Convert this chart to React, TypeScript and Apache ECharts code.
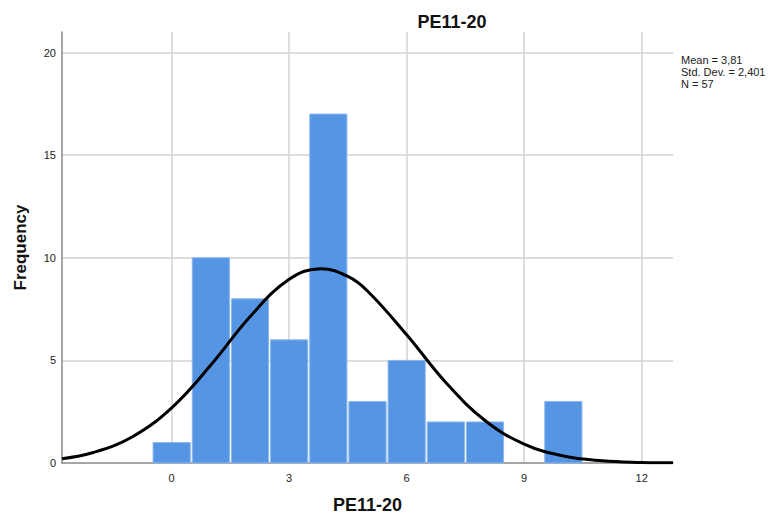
import React, { useEffect, useRef } from "react";
import * as echarts from "echarts";

const binCenters = [0, 1, 2, 3, 4, 5, 6, 7, 8, 9, 10];
const binCounts = [1, 10, 8, 6, 17, 3, 5, 2, 2, 0, 3];
const curveX = [-2.8, -2, -1, 0, 1, 2, 3, 3.81, 4.5, 5, 6, 7, 8, 9, 10, 11, 12, 12.8];
const curveY = [0.21, 0.51, 1.28, 2.69, 4.77, 7.13, 8.95, 9.47, 9.09, 8.38, 6.25, 3.92, 2.07, 0.92, 0.34, 0.11, 0.03, 0.01];
const xTicks = [0, 3, 6, 9, 12];
const yGrid = [5, 10, 15, 20];
const statsLines = ["Mean = 3,81", "Std. Dev. = 2,401", "N = 57"];

export default function App() {
  const ref = useRef<HTMLDivElement>(null);
  useEffect(() => {
    document.body.style.margin = "0";
    const chart = echarts.init(ref.current!, undefined, { renderer: "svg" });
    const font = "Arial, 'Liberation Sans', sans-serif";
    chart.setOption({
      animation: false,
      backgroundColor: "#ffffff",
      grid: { left: 62, right: 97, top: 32, bottom: 52, outerBoundsMode: "none", containLabel: false },
      xAxis: {
        type: "value",
        min: -2.8,
        max: 12.8,
        name: "PE11-20",
        nameLocation: "middle",
        nameGap: 33,
        nameTextStyle: { fontFamily: font, fontSize: 18, fontWeight: "bold", color: "#111" },
        axisLine: { show: true, onZero: false, lineStyle: { color: "#888", width: 1.5 } },
        axisTick: { show: false },
        splitLine: { show: false },
        axisLabel: {
          customValues: xTicks,
          fontFamily: font,
          fontSize: 11,
          color: "#222",
          margin: 9,
        },
      },
      yAxis: {
        type: "value",
        min: 0,
        max: 21,
        interval: 5,
        name: "Frequency",
        nameLocation: "middle",
        nameGap: 33,
        nameTextStyle: { fontFamily: font, fontSize: 17, fontWeight: "bold", color: "#111" },
        axisLine: { show: true, onZero: false, lineStyle: { color: "#888", width: 1.5 } },
        axisTick: { show: false },
        splitLine: { show: false },
        axisLabel: { showMaxLabel: false, fontFamily: font, fontSize: 11, color: "#222", margin: 6 },
      },
      title: {
        text: "PE11-20",
        left: 447,
        top: 8,
        textAlign: "center",
        textStyle: { fontFamily: font, fontSize: 18, fontWeight: "bold", color: "#111" },
      },
      graphic: [
        {
          type: "text",
          left: 681,
          top: 54,
          style: {
            text: statsLines.join("\n"),
            fontFamily: "'Liberation Sans Narrow', Arial, sans-serif",
            fontSize: 11,
            lineHeight: 12,
            fill: "#222",
          },
        },
      ],
      series: [
        {
          type: "line",
          z: 0,
          data: [[0, 0]],
          symbol: "none",
          lineStyle: { opacity: 0 },
          silent: true,
          markLine: {
            z: 0,
            silent: true,
            symbol: "none",
            label: { show: false },
            lineStyle: { color: "#d2d2d2", width: 1.5, type: "solid" },
            data: [
              ...xTicks.map((v) => ({ xAxis: v })),
              ...yGrid.map((v) => ({ yAxis: v })),
            ],
          },
        },
        {
          type: "custom",
          z: 6,
          data: binCenters.map((c, i) => [c, binCounts[i]]),
          renderItem: (params: any, api: any) => {
            const c = api.value(0);
            const v = api.value(1);
            if (!v) return null;
            const p1 = api.coord([c - 0.5, v]);
            const p2 = api.coord([c + 0.5, 0]);
            return {
              type: "rect",
              shape: { x: p1[0] + 1, y: p1[1], width: p2[0] - p1[0] - 2, height: p2[1] - p1[1] },
              style: { fill: "#5595e4", stroke: "#8bb8ee", lineWidth: 1 },
            };
          },
        },
        {
          type: "line",
          z: 7,
          data: curveX.map((x, i) => [x, curveY[i]]),
          smooth: 0.4,
          symbol: "none",
          lineStyle: { color: "#000", width: 3 },
        },
      ],
    });
    return () => chart.dispose();
  }, []);
  return <div ref={ref} style={{ width: 770, height: 515 }} />;
}
